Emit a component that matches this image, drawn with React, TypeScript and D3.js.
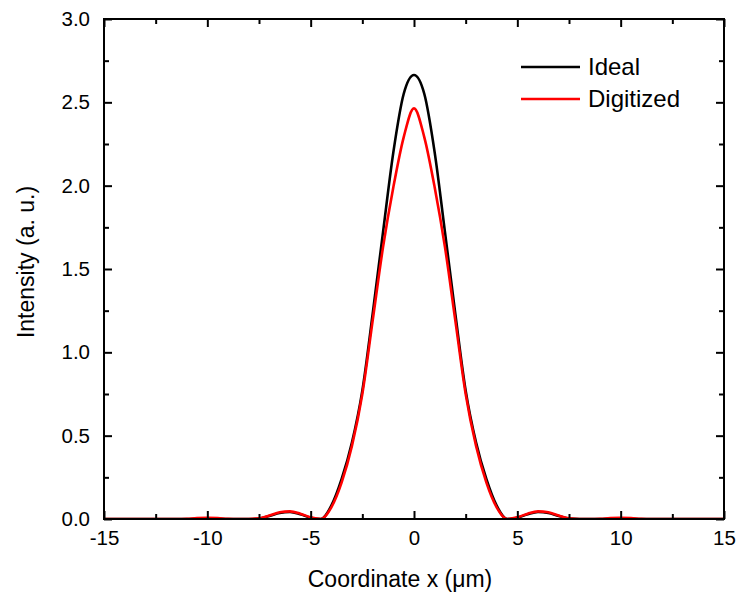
import * as d3 from 'd3';
import * as React from 'react';

const { useRef, useEffect } = React;

const width = 737;
const height = 595;
const margin = { top: 19, right: 13, bottom: 76, left: 104 };

// sampling grid along x (µm)
const xs = [
  -15, -14.5, -14, -13.5, -13, -12.5, -12, -11.5, -11, -10.5, -10, -9.5, -9, -8.5, -8, -7.5, -7, -6.5, -6, -5.5,
  -5, -4.5, -4, -3.5, -3, -2.5, -2, -1.5, -1, -0.5, 0, 0.5, 1, 1.5, 2, 2.5, 3, 3.5, 4, 4.5,
  5, 5.5, 6, 6.5, 7, 7.5, 8, 8.5, 9, 9.5, 10, 10.5, 11, 11.5, 12, 12.5, 13, 13.5, 14, 14.5, 15,
];

const ideal = [
  0, 0, 0, 0, 0, 0, 0, 0, 0, 0.002, 0.004, 0.002, 0, 0, 0, 0.003, 0.018, 0.036, 0.042, 0.028,
  0.008, 0, 0.08, 0.24, 0.46, 0.77, 1.23, 1.72, 2.2, 2.55, 2.664, 2.55, 2.2, 1.72, 1.23, 0.77, 0.46, 0.24, 0.08, 0,
  0.008, 0.028, 0.042, 0.036, 0.018, 0.003, 0, 0, 0, 0.002, 0.004, 0.002, 0, 0, 0, 0, 0, 0, 0, 0, 0,
];

const digitized = [
  0, 0, 0, 0, 0, 0, 0, 0, 0.001, 0.005, 0.007, 0.005, 0.001, 0, 0, 0.004, 0.021, 0.04, 0.046, 0.032,
  0.01, 0, 0.07, 0.22, 0.44, 0.75, 1.19, 1.63, 1.99, 2.29, 2.464, 2.29, 1.99, 1.63, 1.19, 0.75, 0.44, 0.22, 0.07, 0,
  0.01, 0.032, 0.046, 0.04, 0.021, 0.004, 0, 0, 0.001, 0.005, 0.007, 0.005, 0.001, 0, 0, 0, 0, 0, 0, 0, 0,
];

const xMajor = [-15, -10, -5, 0, 5, 10, 15];
const xMinor = [-12.5, -7.5, -2.5, 2.5, 7.5, 12.5];
const yMajor = [0, 0.5, 1, 1.5, 2, 2.5, 3];
const yMinor = [0.25, 0.75, 1.25, 1.75, 2.25, 2.75];

const series = [
  { name: 'Ideal', values: ideal, color: '#000000' },
  { name: 'Digitized', values: digitized, color: '#ff0000' },
];

const font = '"Liberation Sans", Arial, sans-serif';

export default () => {
  const rootRef = useRef<SVGSVGElement>(null);

  useEffect(() => {
    const rootEl = rootRef.current;
    if (!rootEl) return;

    const svg = d3.select(rootEl);
    svg.selectAll('*').remove();

    const x = d3
      .scaleLinear()
      .domain([-15, 15])
      .range([margin.left, width - margin.right]);

    const y = d3
      .scaleLinear()
      .domain([0, 3])
      .range([height - margin.bottom, margin.top]);

    const line = d3
      .line<number>()
      .x((d, i) => x(xs[i]))
      .y(d => y(d))
      .curve(d3.curveMonotoneX);

    svg
      .append('clipPath')
      .attr('id', 'plot-clip')
      .append('rect')
      .attr('x', margin.left)
      .attr('y', margin.top - 2)
      .attr('width', width - margin.left - margin.right)
      .attr('height', height - margin.top - margin.bottom + 2);

    svg
      .append('g')
      .attr('clip-path', 'url(#plot-clip)')
      .selectAll('path')
      .data(series)
      .join('path')
      .attr('fill', 'none')
      .attr('stroke', d => d.color)
      .attr('stroke-width', 2.6)
      .attr('stroke-linejoin', 'round')
      .attr('d', d => line(d.values));

    const styleAxis = (g: d3.Selection<any, any, any, any>) =>
      g
        .call(g => g.select('.domain').remove())
        .call(g => g.selectAll('.tick line').attr('stroke', '#000').attr('stroke-width', 2))
        .call(g =>
          g
            .selectAll('.tick text')
            .attr('fill', '#000')
            .attr('font-family', font)
            .attr('font-size', 20.5),
        );

    const x0 = height - margin.bottom;
    const y0 = margin.left;

    // bottom
    svg
      .append('g')
      .attr('transform', `translate(0,${x0})`)
      .call(d3.axisBottom(x).tickValues(xMajor).tickSize(-8).tickPadding(11).tickFormat(d => String(d)))
      .call(styleAxis);
    svg
      .append('g')
      .attr('transform', `translate(0,${x0})`)
      .call(d3.axisBottom(x).tickValues(xMinor).tickSize(-5).tickFormat(() => ''))
      .call(styleAxis);
    // top
    svg
      .append('g')
      .attr('transform', `translate(0,${margin.top})`)
      .call(d3.axisTop(x).tickValues(xMajor).tickSize(-8).tickFormat(() => ''))
      .call(styleAxis);
    svg
      .append('g')
      .attr('transform', `translate(0,${margin.top})`)
      .call(d3.axisTop(x).tickValues(xMinor).tickSize(-5).tickFormat(() => ''))
      .call(styleAxis);
    // left
    svg
      .append('g')
      .attr('transform', `translate(${y0},0)`)
      .call(d3.axisLeft(y).tickValues(yMajor).tickSize(-8).tickPadding(14).tickFormat(d3.format('.1f')))
      .call(styleAxis);
    svg
      .append('g')
      .attr('transform', `translate(${y0},0)`)
      .call(d3.axisLeft(y).tickValues(yMinor).tickSize(-5).tickFormat(() => ''))
      .call(styleAxis);
    // right
    svg
      .append('g')
      .attr('transform', `translate(${width - margin.right},0)`)
      .call(d3.axisRight(y).tickValues(yMajor).tickSize(-8).tickFormat(() => ''))
      .call(styleAxis);
    svg
      .append('g')
      .attr('transform', `translate(${width - margin.right},0)`)
      .call(d3.axisRight(y).tickValues(yMinor).tickSize(-5).tickFormat(() => ''))
      .call(styleAxis);

    // frame
    svg
      .append('rect')
      .attr('x', margin.left)
      .attr('y', margin.top)
      .attr('width', width - margin.left - margin.right)
      .attr('height', height - margin.top - margin.bottom)
      .attr('fill', 'none')
      .attr('stroke', '#000')
      .attr('stroke-width', 2);

    // axis titles
    svg
      .append('text')
      .attr('x', (margin.left + width - margin.right) / 2 - 14)
      .attr('y', 587)
      .attr('text-anchor', 'middle')
      .attr('font-family', font)
      .attr('font-size', 23)
      .text('Coordinate x (μm)');

    svg
      .append('text')
      .attr('transform', `translate(34,${(margin.top + height - margin.bottom) / 2 - 7}) rotate(-90)`)
      .attr('text-anchor', 'middle')
      .attr('font-family', font)
      .attr('font-size', 23)
      .text('Intensity (a. u.)');

    // legend
    const legend = svg
      .append('g')
      .selectAll('g')
      .data(series)
      .join('g')
      .attr('transform', (d, i) => `translate(521,${67 + i * 32})`);

    legend
      .append('line')
      .attr('x1', 0)
      .attr('x2', 59)
      .attr('stroke', d => d.color)
      .attr('stroke-width', 2.6);

    legend
      .append('text')
      .attr('x', 67)
      .attr('dy', '0.35em')
      .attr('font-family', font)
      .attr('font-size', 24)
      .text(d => d.name);
  }, []);

  return (
    <svg
      ref={rootRef}
      width={width}
      height={height}
      viewBox={`0 0 ${width} ${height}`}
      style={{ position: 'absolute', left: 0, top: 0, background: '#fff' }}
    />
  );
};
